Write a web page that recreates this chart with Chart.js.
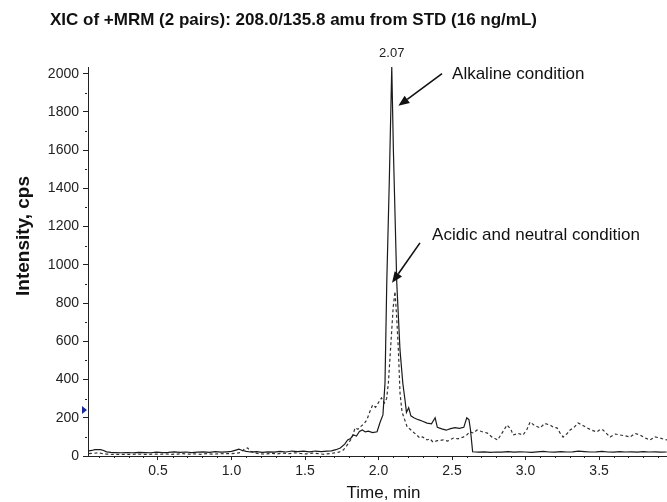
<!DOCTYPE html>
<html><head><meta charset="utf-8">
<script src="https://cdn.jsdelivr.net/npm/chart.js@4.4.1/dist/chart.umd.min.js"></script>
<style>html,body{margin:0;padding:0;background:#fff}#wrap{width:667px;height:502px}</style>
</head><body><div id="wrap"><canvas id="c" width="667" height="502"></canvas></div>
<script>
// ---- data (time in min, intensity in cps) ----
const alkalineTime = [0.03,0.05,0.07,0.09,0.11,0.13,0.15,0.18,0.21,0.25,0.29,0.33,0.37,0.41,0.45,0.49,0.53,0.57,0.61,0.65,0.69,0.73,0.77,0.81,0.85,0.89,0.93,0.97,1.00,1.03,1.05,1.07,1.10,1.13,1.17,1.21,1.25,1.29,1.33,1.37,1.41,1.45,1.49,1.53,1.57,1.61,1.65,1.68,1.71,1.74,1.77,1.79,1.81,1.83,1.85,1.87,1.89,1.91,1.93,1.96,1.99,2.01,2.03,2.044,2.056,2.073,2.090,2.101,2.124,2.146,2.165,2.18,2.19,2.205,2.22,2.24,2.27,2.30,2.33,2.36,2.385,2.40,2.43,2.46,2.49,2.52,2.55,2.58,2.60,2.615,2.625,2.64,2.68,2.72,2.76,2.80,2.84,2.88,2.92,2.96,3.00,3.04,3.08,3.12,3.16,3.20,3.24,3.28,3.32,3.36,3.40,3.44,3.48,3.52,3.56,3.60,3.64,3.68,3.72,3.76,3.80,3.84,3.88,3.92,3.96];
const alkalineIntensity = [27,29,33,34,33,29,22,19,18,17,18,17,19,18,17,20,18,19,22,19,21,18,20,22,19,23,20,22,24,31,36,30,24,21,23,19,22,20,24,21,26,23,25,22,26,23,25,27,33,42,62,84,92,110,104,128,136,126,130,122,127,175,215,382,906,1429,2035,1602,906,555,382,293,228,252,210,200,190,182,172,168,200,150,142,135,143,148,145,150,200,190,140,22,20,22,19,21,20,23,20,22,21,19,22,24,21,20,23,21,22,25,23,21,22,24,21,20,23,21,22,20,23,21,22,20,21];

const acidicTime = [0.03,0.06,0.09,0.12,0.15,0.19,0.23,0.27,0.31,0.35,0.39,0.43,0.47,0.51,0.55,0.59,0.63,0.67,0.71,0.75,0.79,0.83,0.87,0.91,0.95,0.99,1.03,1.06,1.09,1.11,1.13,1.16,1.19,1.23,1.27,1.31,1.35,1.39,1.43,1.47,1.51,1.55,1.59,1.63,1.67,1.70,1.73,1.76,1.78,1.81,1.83,1.84,1.86,1.88,1.90,1.92,1.94,1.96,1.98,2.00,2.02,2.04,2.055,2.067,2.085,2.100,2.112,2.124,2.135,2.146,2.16,2.18,2.195,2.215,2.235,2.26,2.28,2.30,2.33,2.35,2.37,2.40,2.44,2.47,2.51,2.54,2.575,2.60,2.62,2.645,2.67,2.70,2.74,2.77,2.81,2.84,2.874,2.90,2.915,2.95,2.983,3.01,3.031,3.06,3.099,3.13,3.167,3.19,3.214,3.235,3.255,3.28,3.303,3.33,3.357,3.39,3.418,3.45,3.486,3.51,3.527,3.55,3.575,3.61,3.643,3.68,3.711,3.745,3.779,3.81,3.847,3.88,3.915,3.94,3.962];
const acidicIntensity = [12,14,16,13,10,9,8,9,8,10,9,8,10,9,11,9,10,12,10,11,9,12,10,11,13,12,14,18,38,42,24,16,12,10,14,11,15,12,17,13,11,15,12,9,13,16,20,31,50,84,120,147,140,155,168,188,230,267,255,280,304,277,300,382,600,780,860,720,555,330,230,185,152,140,126,110,94,100,84,90,73,80,84,78,94,90,99,110,126,120,136,128,120,100,84,120,162,140,110,118,110,140,178,160,147,170,162,150,147,120,99,115,136,150,173,160,147,135,126,140,136,118,99,115,110,105,99,118,110,95,84,100,94,88,84];

const xTickLabels = [0.5, 1.0, 1.5, 2.0, 2.5, 3.0, 3.5];
const yTickLabels = [0, 200, 400, 600, 800, 1000, 1200, 1400, 1600, 1800, 2000];
const xMinorTicks = [0.1,0.2,0.3,0.4,0.6,0.7,0.8,0.9,1.1,1.2,1.3,1.4,1.6,1.7,1.8,1.9,2.1,2.2,2.3,2.4,2.6,2.7,2.8,2.9,3.1,3.2,3.3,3.4,3.6,3.7,3.8,3.9];
const yMinorTicks = [100,300,500,700,900,1100,1300,1500,1700,1900];

const titleText = 'XIC of +MRM (2 pairs): 208.0/135.8 amu from STD (16 ng/mL)';
const peakLabel = '2.07';
const peakTime = 2.09, peakIntensity = 2035;
const xTitle = 'Time, min';
const yTitle = 'Intensity, cps';
const markerIntensity = 240;

// annotations in data coordinates: [text, textTime, textIntensity, tailTime, tailIntensity, tipTime, tipIntensity]
const annotations = [
  ['Alkaline condition', 2.50, 1995, 2.432, 2000, 2.135, 1832],
  ['Acidic and neutral condition', 2.364, 1152, 2.282, 1115, 2.092, 906]
];

const FONT = '"Liberation Sans", Arial, Helvetica, sans-serif';

function pts(t, v) { return t.map((x, i) => ({ x: x, y: v[i] })); }

const decor = {
  id: 'decor',
  afterDraw(chart) {
    const ctx = chart.ctx, xs = chart.scales.x, ys = chart.scales.y, a = chart.chartArea;
    ctx.save();
    ctx.strokeStyle = '#222'; ctx.lineWidth = 1;
    // minor ticks
    ctx.beginPath();
    xMinorTicks.forEach(v => { const px = Math.round(xs.getPixelForValue(v)) + 0.5; ctx.moveTo(px, a.bottom); ctx.lineTo(px, a.bottom + 2); });
    yMinorTicks.forEach(v => { const py = Math.round(ys.getPixelForValue(v)) + 0.5; ctx.moveTo(a.left - 3, py); ctx.lineTo(a.left - 1, py); });
    ctx.stroke();
    // blue marker
    const my = ys.getPixelForValue(markerIntensity);
    ctx.fillStyle = '#1a2a9a';
    ctx.beginPath(); ctx.moveTo(a.left - 6, my - 4); ctx.lineTo(a.left - 1, my); ctx.lineTo(a.left - 6, my + 4); ctx.closePath(); ctx.fill();
    // title
    ctx.fillStyle = '#111';
    ctx.font = 'bold 17px ' + FONT; ctx.textBaseline = 'middle'; ctx.textAlign = 'left';
    ctx.fillText(titleText, 50, 20);
    // peak label
    ctx.font = '13px ' + FONT; ctx.textAlign = 'center'; ctx.fillStyle = '#222';
    ctx.fillText(peakLabel, xs.getPixelForValue(peakTime), ys.getPixelForValue(peakIntensity) - 14);
    // axis titles
    ctx.fillStyle = '#111';
    ctx.font = '17px ' + FONT; ctx.textAlign = 'center';
    ctx.fillText(xTitle, (a.left + a.right) / 2 + 6, 493);
    ctx.save(); ctx.translate(24, 236); ctx.rotate(-Math.PI / 2);
    ctx.font = 'bold 19px ' + FONT; ctx.fillText(yTitle, 0, 0); ctx.restore();
    // annotations
    annotations.forEach(an => {
      ctx.font = '17px ' + FONT; ctx.textAlign = 'left'; ctx.fillStyle = '#111';
      ctx.fillText(an[0], xs.getPixelForValue(an[1]), ys.getPixelForValue(an[2]));
      const x1 = xs.getPixelForValue(an[3]), y1 = ys.getPixelForValue(an[4]);
      const x2 = xs.getPixelForValue(an[5]), y2 = ys.getPixelForValue(an[6]);
      const ang = Math.atan2(y2 - y1, x2 - x1), L = 11, W = 4.5;
      const bx = x2 - L * Math.cos(ang), by = y2 - L * Math.sin(ang);
      ctx.strokeStyle = '#111'; ctx.lineWidth = 1.6;
      ctx.beginPath(); ctx.moveTo(x1, y1); ctx.lineTo(bx, by); ctx.stroke();
      ctx.beginPath(); ctx.moveTo(x2, y2);
      ctx.lineTo(bx + W * Math.sin(ang), by - W * Math.cos(ang));
      ctx.lineTo(bx - W * Math.sin(ang), by + W * Math.cos(ang));
      ctx.closePath(); ctx.fill();
    });
    ctx.restore();
  }
};

new Chart(document.getElementById('c'), {
  type: 'line',
  data: {
    datasets: [
      { label: 'Alkaline condition', data: pts(alkalineTime, alkalineIntensity), borderColor: '#1a1a1a', borderWidth: 1.2, pointRadius: 0, tension: 0, fill: false },
      { label: 'Acidic and neutral condition', data: pts(acidicTime, acidicIntensity), borderColor: '#333', borderWidth: 1.2, borderDash: [3, 2.5], pointRadius: 0, tension: 0, fill: false }
    ]
  },
  options: {
    responsive: false, animation: false, devicePixelRatio: 1,
    layout: { padding: { top: 67, left: 0, right: 0, bottom: 0 } },
    plugins: { legend: { display: false }, tooltip: { enabled: false }, title: { display: false } },
    scales: {
      x: {
        type: 'linear', position: 'bottom', min: 0.024, max: 3.962,
        afterFit(s) { s.height = 46; },
        afterBuildTicks(s) { s.ticks = xTickLabels.map(v => ({ value: v })); },
        ticks: { autoSkip: false, maxRotation: 0, padding: 3, color: '#222', font: { family: FONT, size: 14 }, callback: v => Number(v).toFixed(1) },
        grid: { drawOnChartArea: false, drawTicks: true, tickLength: 4, color: '#222' },
        border: { display: true, color: '#222', width: 1 }
      },
      y: {
        type: 'linear', min: 0, max: 2035,
        afterFit(s) { s.width = 88; },
        afterBuildTicks(s) { s.ticks = yTickLabels.map(v => ({ value: v })); },
        ticks: { autoSkip: false, padding: 4, color: '#222', font: { family: FONT, size: 14 }, callback: v => String(v) },
        grid: { drawOnChartArea: false, drawTicks: true, tickLength: 5, color: '#222' },
        border: { display: true, color: '#222', width: 1 }
      }
    }
  },
  plugins: [decor]
});
</script></body></html>
